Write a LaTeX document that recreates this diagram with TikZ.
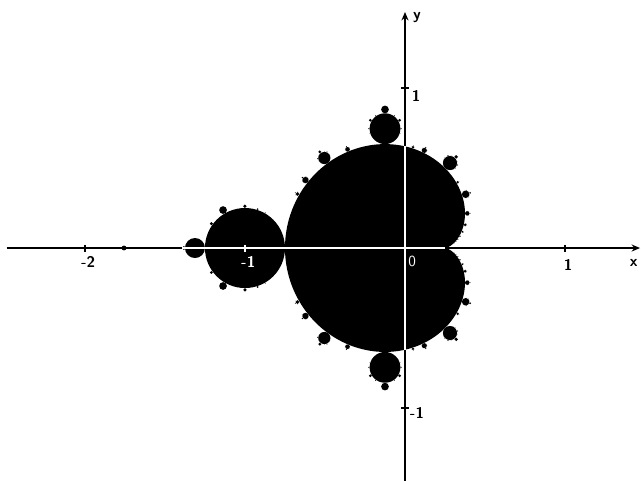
\documentclass[tikz,border=0pt]{standalone}
\usetikzlibrary{arrows.meta}

\begin{document}
\begin{tikzpicture}[
    x=4cm, y=4cm,
    axis/.style={draw, line width=1.1pt, -{Stealth[length=6pt, width=5pt]}},
    inner/.style={draw=white, line width=0.8pt},
    tickmark/.style={draw, line width=1.1pt},
    lbl/.style={font=\sffamily\bfseries\fontsize{11}{13}\selectfont, inner sep=0pt},
    set/.style={fill=black}
]
    \useasboundingbox (-2.531,-1.456) rectangle (1.475,1.55);

    % main cardioid
    \fill[set] plot[domain=0:360, samples=260, variable=\t]
        ({cos(\t)/2-cos(2*\t)/4}, {sin(\t)/2-sin(2*\t)/4}) -- cycle;

    % p/q bulbs on the cardioid and their own bulbs
    \foreach \p/\q in {1/2,1/3,2/3,1/4,3/4,1/5,2/5,3/5,4/5,1/6,5/6,1/7,2/7,3/7,4/7,5/7,6/7,
                       1/8,3/8,5/8,7/8,1/9,2/9,4/9,5/9,7/9,8/9,1/10,3/10,7/10,9/10,1/11,10/11,1/12,11/12} {
        \pgfmathsetmacro\tt{360*\p/\q}
        \pgfmathsetmacro\r{sin(180*\p/\q)/(\q*\q)}
        \pgfmathsetmacro\n{1.5*\tt-90}
        \pgfmathsetmacro\cx{cos(\tt)/2-cos(2*\tt)/4+\r*cos(\n)}
        \pgfmathsetmacro\cy{sin(\tt)/2-sin(2*\tt)/4+\r*sin(\n)}
        \fill[set] (\cx,\cy) circle[radius=\r];
        \foreach \pp/\qq in {1/2,1/3,2/3,1/4,3/4,1/5,2/5,3/5,4/5,1/6,5/6} {
            \pgfmathsetmacro\a{\n+180+360*\pp/\qq}
            \pgfmathsetmacro\rr{\r*sin(180*\pp/\qq)/(\qq*\qq)}
            \fill[set] ({\cx+(\r+\rr)*cos(\a)}, {\cy+(\r+\rr)*sin(\a)}) circle[radius=\rr];
        }
    }

    % far left of the real axis
    \fill[set] (-1.3815,0) circle[radius=0.0124];
    \fill[set] (-1.756,0) circle[radius=0.015];

    % axes
    \coordinate (xl) at (-2.49,0);
    \coordinate (xr) at (1.469,0);
    \coordinate (yb) at (0,-1.456);
    \coordinate (yt) at (0,1.475);
    \path[axis] (xl) -- (xr);
    \path[axis] (yb) -- (yt);

    \foreach \x in {-2,1} \path[tickmark] (\x,0.022) -- (\x,-0.022);
    \foreach \y in {-1,1} \path[tickmark] (0.022,\y) -- (-0.022,\y);

    % axes inside the set
    \coordinate (il) at (-1.394,0);
    \coordinate (ir) at (0.25,0);
    \coordinate (ib) at (0,-0.636);
    \coordinate (it) at (0,0.636);
    \path[inner] (il) -- (ir);
    \path[inner] (ib) -- (it);
    \path[inner] (-1,0.022) -- (-1,-0.022);

    \node[lbl] (m2) at (-1.98,-0.09) {-2};
    \node[lbl, white] (m1) at (-0.98,-0.09) {-1};
    \node[lbl, white, font=\sffamily\fontsize{11}{13}\selectfont] (o) at (0.045,-0.085) {0};
    \node[lbl] (p1) at (1.02,-0.105) {1};
    \node[lbl] (xlab) at (1.43,-0.095) {x};
    \node[lbl] (ylab) at (0.075,1.44) {y};
    \node[lbl] (q1) at (0.07,0.95) {1};
    \node[lbl] (n1) at (0.075,-1.03) {-1};
\end{tikzpicture}
\end{document}
